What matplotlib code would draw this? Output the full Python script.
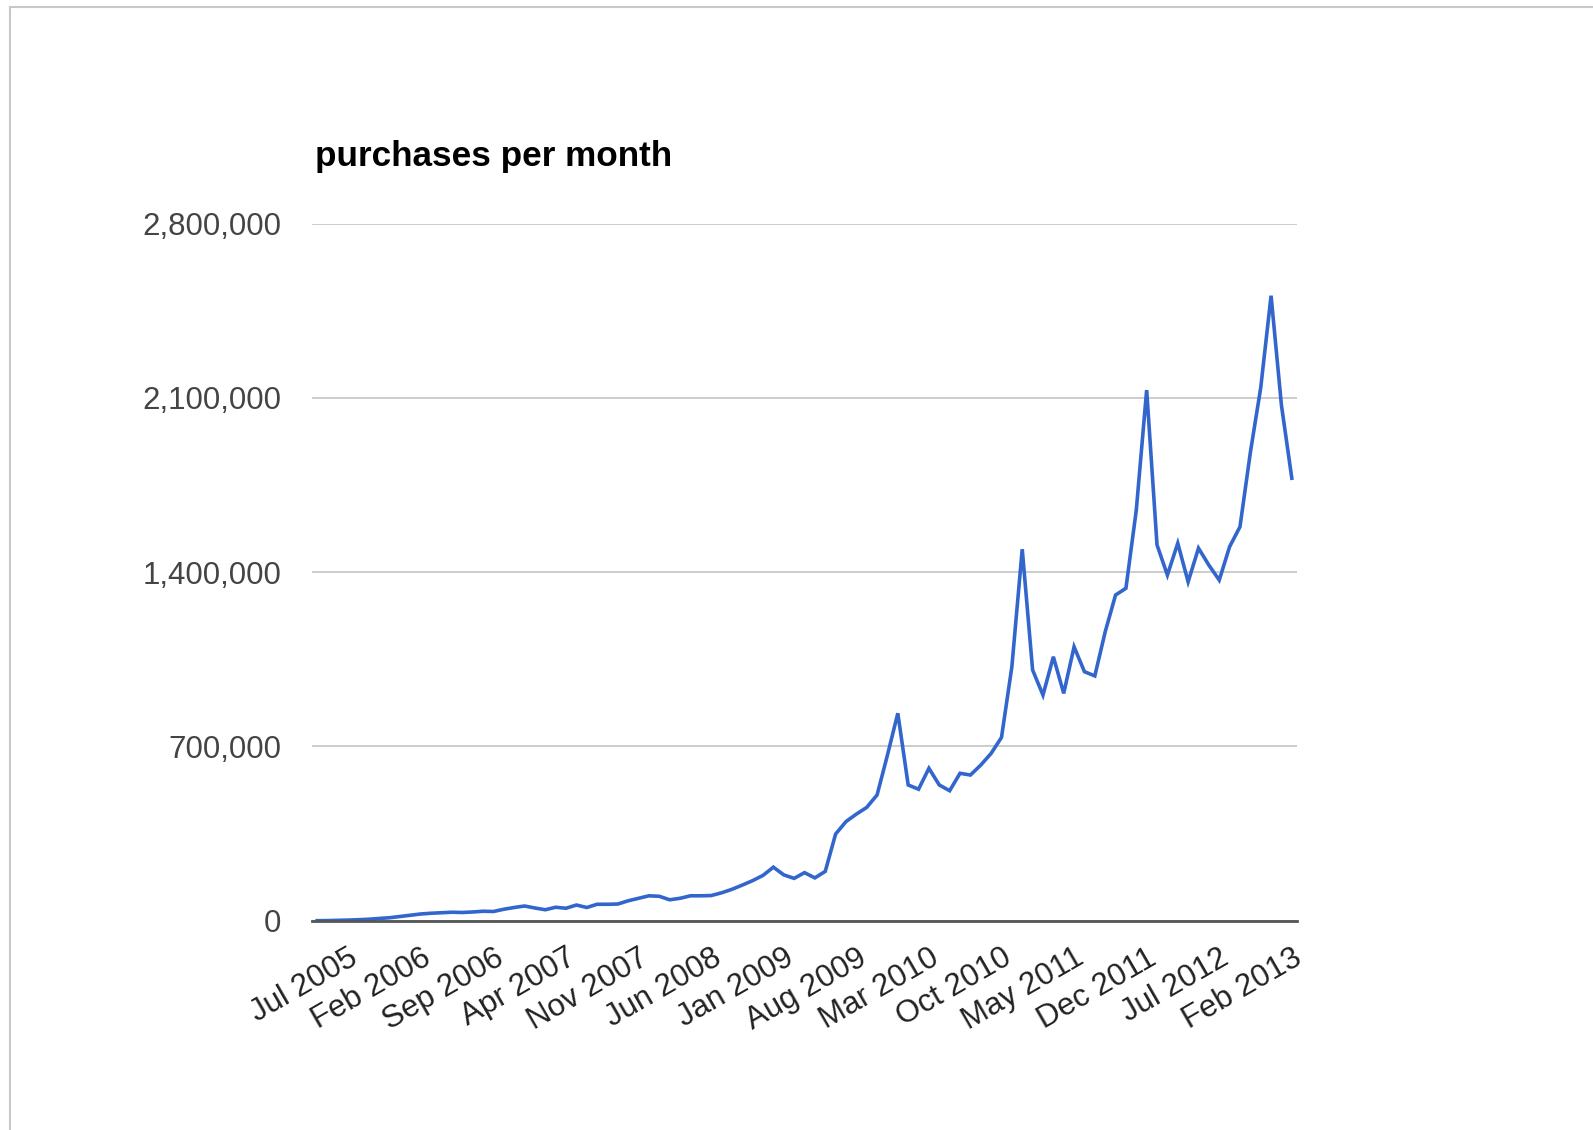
import matplotlib
matplotlib.use('Agg')
import matplotlib.pyplot as plt
from matplotlib.lines import Line2D
from matplotlib.ticker import FuncFormatter
import numpy as np

plt.rcParams['font.family'] = ['Liberation Sans', 'DejaVu Sans']

# monthly purchases, Apr 2005 .. Feb 2013
purchases = [
    0, 500, 1500, 2500, 4000, 6000, 9000, 12000, 17000, 22000,
    27000, 30000, 32000, 34000, 33000, 35000, 38000, 37000, 46000, 53000,
    59000, 51000, 44000, 54000, 50000, 63000, 53000, 66000, 66000, 67000,
    80000, 90000, 100000, 98000, 84000, 90000, 100000, 100000, 101000, 112000,
    126000, 143000, 161000, 182000, 215000, 184000, 170000, 193000, 172000, 198000,
    348000, 398000, 428000, 455000, 505000, 665000, 833000, 545000, 528000, 612000,
    545000, 522000, 592000, 585000, 625000, 672000, 736000, 1020000, 1492000, 1007000,
    906000, 1060000, 913000, 1100000, 1000000, 983000, 1160000, 1308000, 1335000, 1649000,
    2131000, 1509000, 1388000, 1516000, 1361000, 1496000, 1428000, 1368000, 1502000, 1582000,
    1880000, 2140000, 2510000, 2070000, 1777000,
]

tick_idx = [3, 10, 17, 24, 31, 38, 45, 52, 59, 66, 73, 80, 87, 94]
tick_labels = ['Jul 2005', 'Feb 2006', 'Sep 2006', 'Apr 2007', 'Nov 2007', 'Jun 2008',
               'Jan 2009', 'Aug 2009', 'Mar 2010', 'Oct 2010', 'May 2011', 'Dec 2011',
               'Jul 2012', 'Feb 2013']
y_ticks = [0, 700000, 1400000, 2100000, 2800000]

W, H = 1593, 1130
fig = plt.figure(figsize=(W / 100, H / 100), dpi=100)
ax = fig.add_axes([312 / W, (H - 920.7) / H, (1297 - 312) / W, (920.7 - 223.5) / H])

x = np.arange(len(purchases))
ax.plot(x, purchases, color='#3366cc', lw=2.6, solid_joinstyle='miter', zorder=3)

ax.set_xlim(-0.5, len(purchases) - 0.5)
ax.set_ylim(0, 2800000)
ax.set_yticks(y_ticks)
ax.yaxis.set_major_formatter(FuncFormatter(lambda v, p: '{:,.0f}'.format(v)))
ax.yaxis.grid(True, color='#cccccc', lw=1.4)
ax.set_axisbelow(True)
for s in ['top', 'left', 'right']:
    ax.spines[s].set_visible(False)
ax.spines['bottom'].set_color('#555555')
ax.spines['bottom'].set_linewidth(2)
ax.spines['bottom'].set_zorder(4)

ax.set_xticks(tick_idx)
ax.set_xticklabels(tick_labels, rotation=30, ha='right', rotation_mode='anchor')
ax.tick_params(axis='x', length=0, pad=16, labelsize=22.5, labelcolor='#222222')
ax.tick_params(axis='y', length=0, pad=22, labelsize=22.5, labelcolor='#444444')

fig.text(315 / W, 1 - 165.6 / H, 'purchases per month', fontsize=25.3,
         fontweight='bold', color='black', va='baseline', ha='left')

# frame lines at top and left
fig.add_artist(Line2D([10 / W, 1], [1 - 7 / H, 1 - 7 / H], color='#c8c8c8', lw=1.5))
fig.add_artist(Line2D([10 / W, 10 / W], [0, 1 - 7 / H], color='#c8c8c8', lw=1.5))

fig.savefig('out.png', dpi=100)
